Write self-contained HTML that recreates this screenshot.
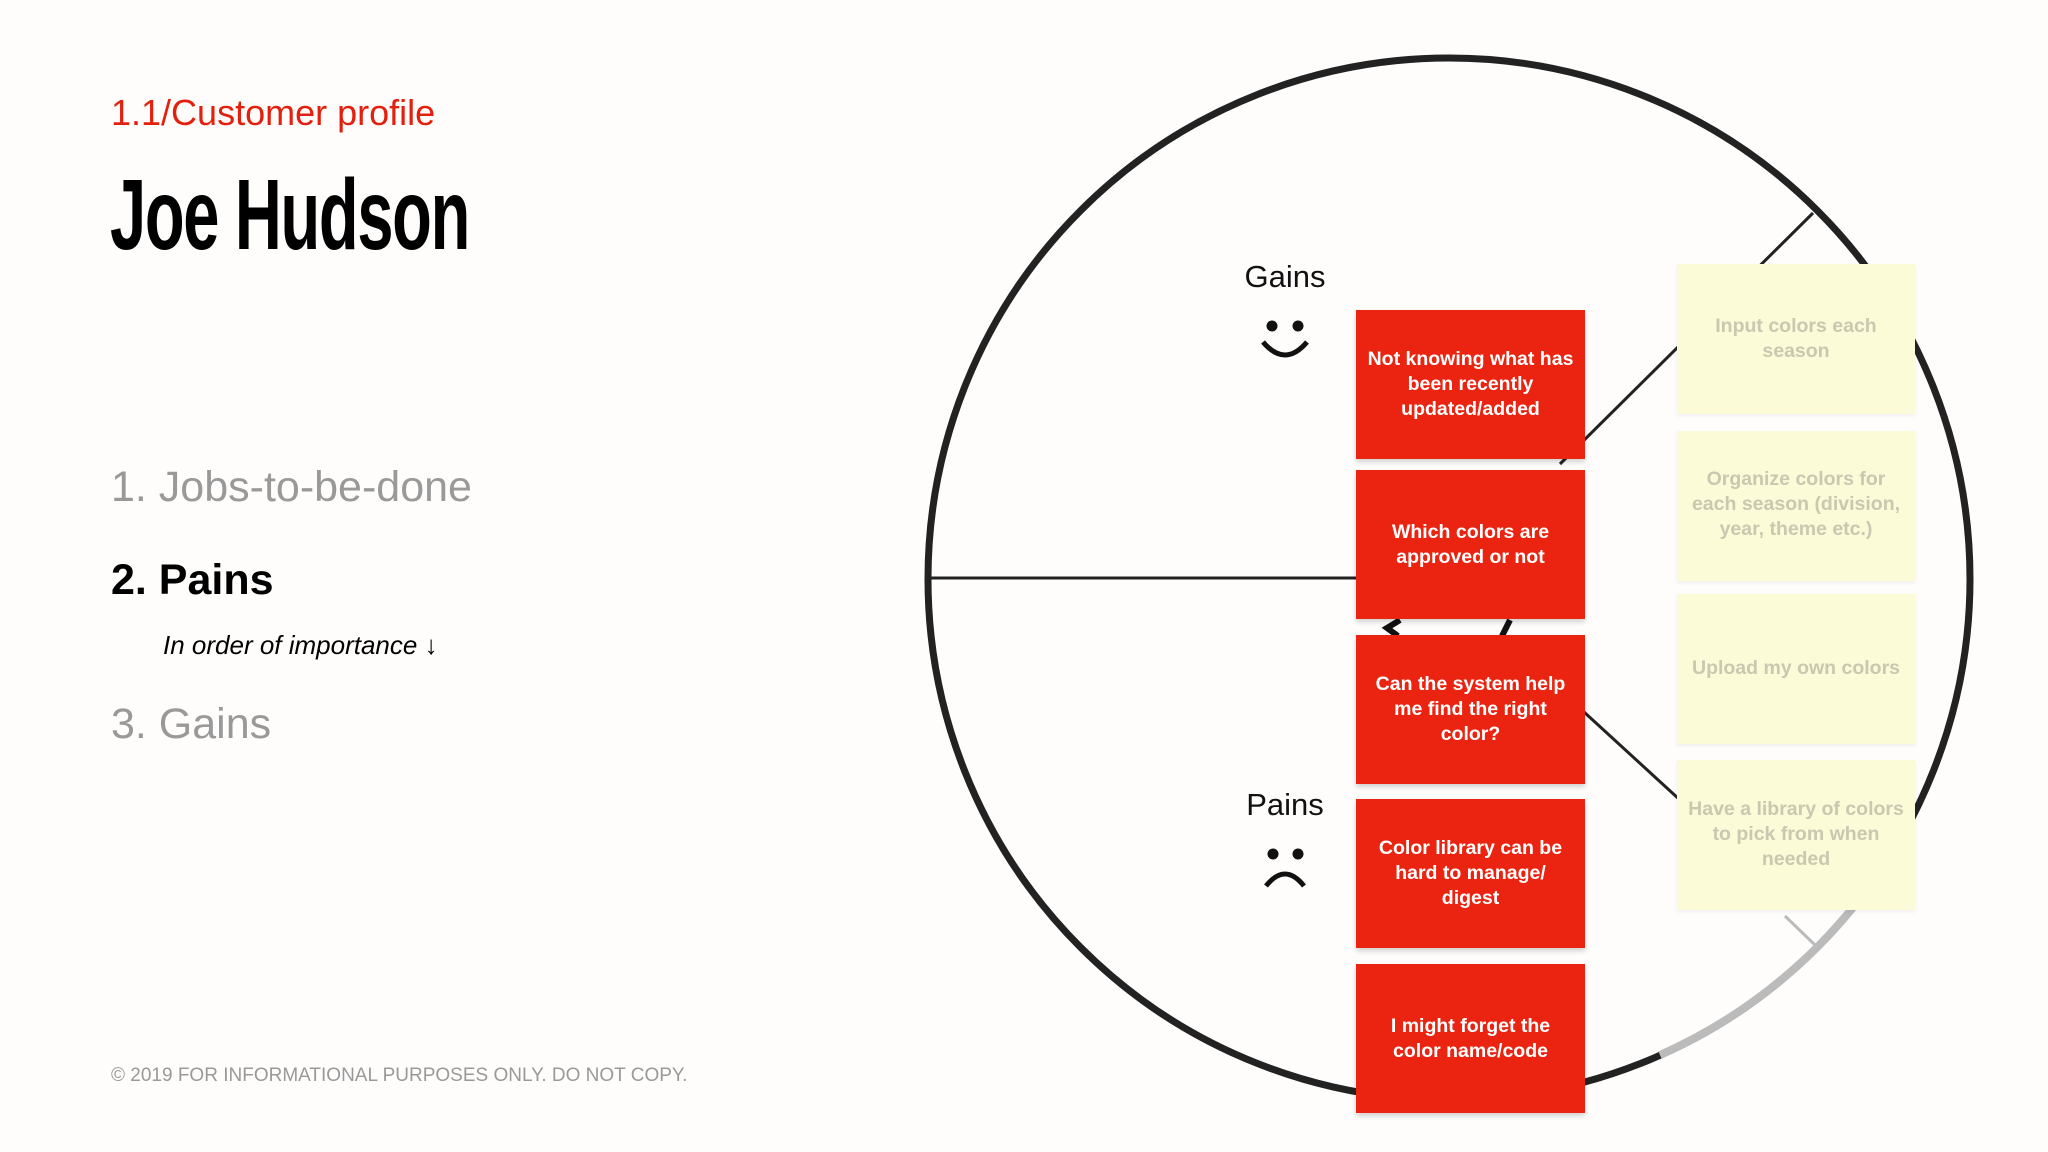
<!DOCTYPE html>
<html><head><meta charset="utf-8">
<style>
html,body{margin:0;padding:0;background:#fefdfc;}
body{width:2048px;height:1152px;position:relative;overflow:hidden;font-family:"Liberation Sans",sans-serif;}
.abs{position:absolute;}
.note{position:absolute;display:flex;align-items:center;justify-content:center;text-align:center;box-sizing:border-box;padding:0 10px;font-weight:bold;}
.red{background:#ea2410;color:#fff;font-size:19.5px;line-height:25px;box-shadow:0 3px 5px rgba(0,0,0,0.18);}
.yel{background:#fbfbd8;color:#c9c8b0;font-size:19.5px;line-height:25px;box-shadow:0 2px 4px rgba(0,0,0,0.06);}
</style></head>
<body>
<div class="abs" style="left:111px;top:92px;font-size:36px;color:#e3200d;">1.1/Customer profile</div>
<div class="abs" style="left:110px;top:158px;font-size:100px;font-weight:bold;color:#000;transform:scaleX(0.65);transform-origin:left top;letter-spacing:-2px;font-family:'Liberation Sans Narrow','Liberation Sans',sans-serif;">Joe Hudson</div>
<div class="abs" style="left:111px;top:463px;font-size:43px;color:#999;">1. Jobs-to-be-done</div>
<div class="abs" style="left:111px;top:556px;font-size:43px;font-weight:bold;color:#000;">2. Pains</div>
<div class="abs" style="left:163px;top:630px;font-size:26px;font-style:italic;color:#000;">In order of importance ↓</div>
<div class="abs" style="left:111px;top:700px;font-size:43px;color:#999;">3. Gains</div>
<div class="abs" style="left:111px;top:1065px;font-size:19px;color:#999;">© 2019 FOR INFORMATIONAL PURPOSES ONLY. DO NOT COPY.</div>

<svg class="abs" style="left:0;top:0" width="2048" height="1152">
  <circle cx="1449" cy="579" r="521" fill="none" stroke="#222" stroke-width="7"/>
  <path d="M1660 1055 A521 521 0 0 0 1855 905" fill="none" stroke="#bbb" stroke-width="8"/>
  <line x1="930" y1="578" x2="1360" y2="578" stroke="#222" stroke-width="3"/>
  <line x1="1813" y1="213" x2="1560" y2="464" stroke="#222" stroke-width="3"/>
  <line x1="1584" y1="712" x2="1680" y2="800" stroke="#222" stroke-width="3"/>
  <line x1="1785" y1="916" x2="1815" y2="945" stroke="#bbb" stroke-width="3"/>
  <path d="M1400 620 L1387 628 L1398 636 M1510 620 L1502 636" fill="none" stroke="#111" stroke-width="6"/>
  <text x="1285" y="287" font-size="31" text-anchor="middle" font-family="Liberation Sans, sans-serif" fill="#111">Gains</text>
  <g>
    <circle cx="1272" cy="326" r="5.5" fill="#111"/><circle cx="1298" cy="326" r="5.5" fill="#111"/>
    <path d="M1263 342 Q1285 368 1307 342" fill="none" stroke="#111" stroke-width="5"/>
  </g>
  <text x="1285" y="815" font-size="31" text-anchor="middle" font-family="Liberation Sans, sans-serif" fill="#111">Pains</text>
  <g>
    <circle cx="1273" cy="854" r="5.5" fill="#111"/><circle cx="1298" cy="854" r="5.5" fill="#111"/>
    <path d="M1266 886 Q1285 862 1304 886" fill="none" stroke="#111" stroke-width="5"/>
  </g>
</svg>

<div class="note red" style="left:1356px;top:310px;width:229px;height:149px;">Not knowing what has been recently updated/added</div>
<div class="note red" style="left:1356px;top:470px;width:229px;height:149px;">Which colors are approved or not</div>
<div class="note red" style="left:1356px;top:635px;width:229px;height:149px;">Can the system help me find the right color?</div>
<div class="note red" style="left:1356px;top:799px;width:229px;height:149px;">Color library can be hard to manage/ digest</div>
<div class="note red" style="left:1356px;top:964px;width:229px;height:149px;">I might forget the color name/code</div>

<div class="note yel" style="left:1677px;top:264px;width:238px;height:150px;align-items:flex-start;padding-top:50px;">Input colors each season</div>
<div class="note yel" style="left:1677px;top:431px;width:238px;height:150px;align-items:flex-start;padding-top:36px;">Organize colors for each season (division, year, theme etc.)</div>
<div class="note yel" style="left:1677px;top:594px;width:238px;height:150px;align-items:flex-start;padding-top:62px;">Upload my own colors</div>
<div class="note yel" style="left:1677px;top:760px;width:238px;height:150px;align-items:flex-start;padding-top:37px;">Have a library of colors to pick from when needed</div>
</body></html>
